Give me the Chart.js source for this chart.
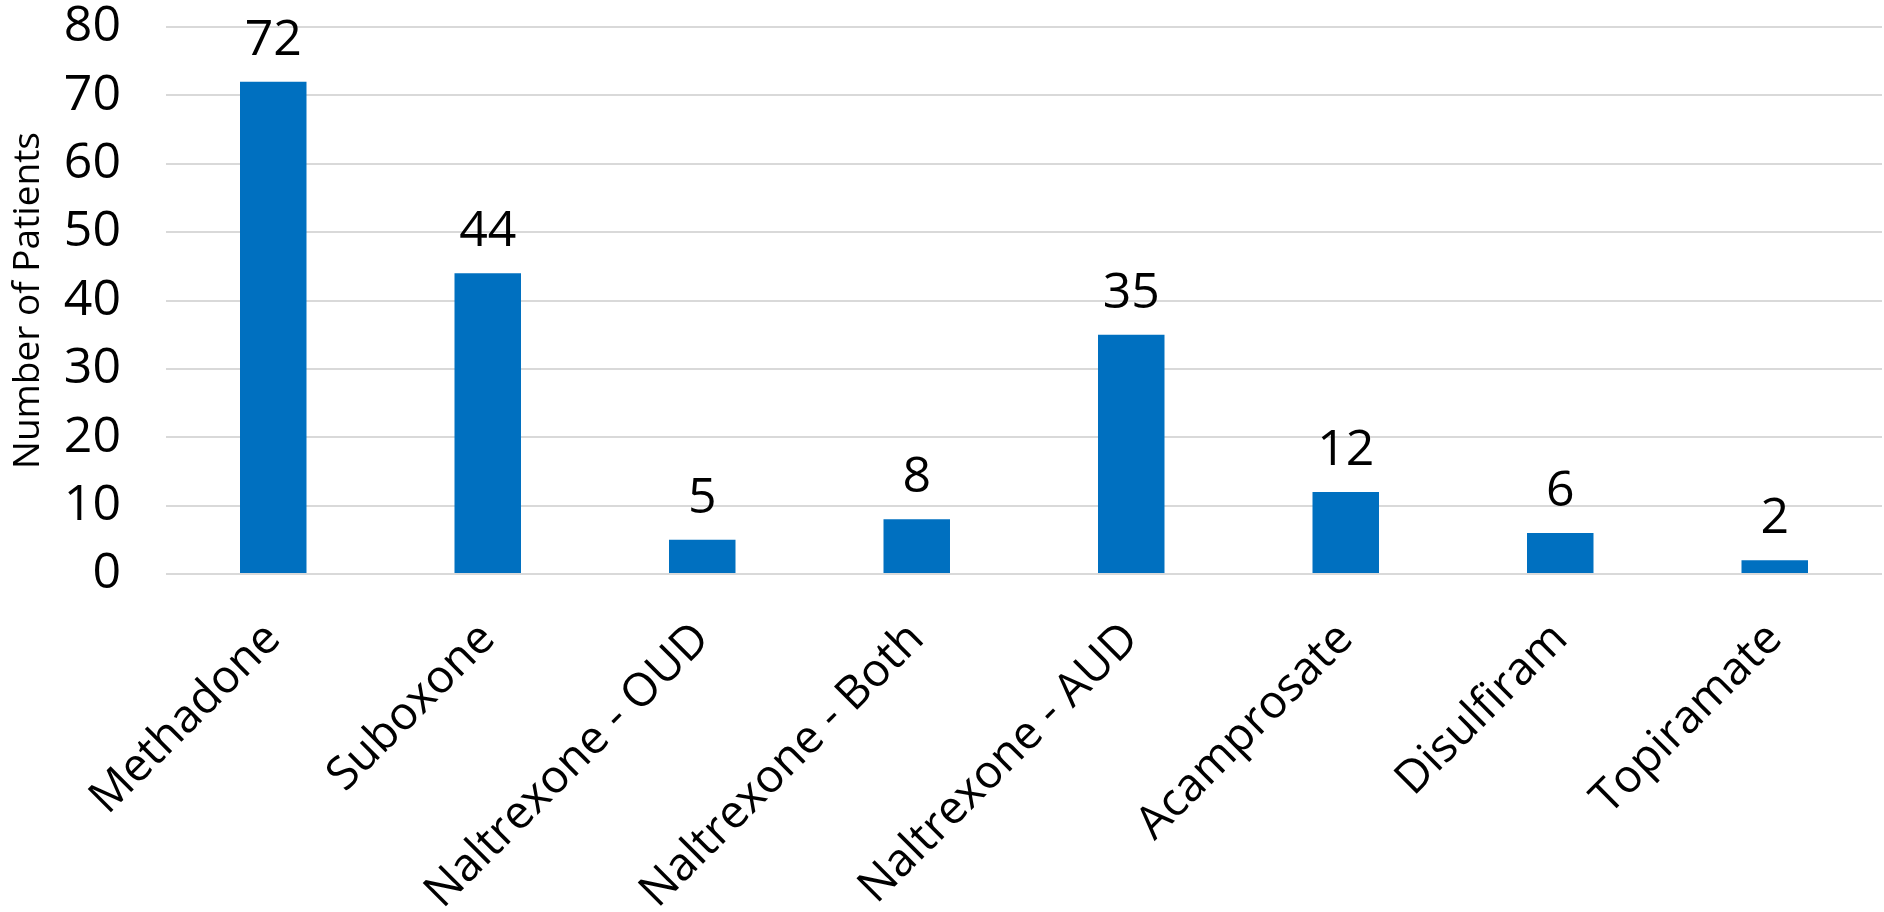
<!DOCTYPE html>
<html>
<head>
<meta charset="utf-8">
<script src="https://cdn.jsdelivr.net/npm/chart.js@4/dist/chart.umd.min.js"></script>
<style>
  html, body { margin: 0; padding: 0; background: #fff; }
  #wrap { width: 1884px; height: 912px; }
</style>
</head>
<body>
<div id="wrap"><canvas id="patientChart" width="1884" height="912"></canvas></div>
<script>
const categories = ["Methadone", "Suboxone", "Naltrexone - OUD", "Naltrexone - Both",
  "Naltrexone - AUD", "Acamprosate", "Disulfiram", "Topiramate"];
const patients = [72, 44, 5, 8, 35, 12, 6, 2];
const yTicks = [0, 10, 20, 30, 40, 50, 60, 70, 80];

const fontFamily = "'Open Sans', 'Noto Sans', sans-serif";

// draw the value above each bar
const valueLabels = {
  id: "valueLabels",
  afterDatasetsDraw(chart) {
    const ctx = chart.ctx;
    const meta = chart.getDatasetMeta(0);
    ctx.save();
    ctx.font = "50px " + fontFamily;
    ctx.fillStyle = "#000";
    ctx.textAlign = "center";
    ctx.textBaseline = "alphabetic";
    meta.data.forEach((bar, i) => {
      ctx.fillText(String(patients[i]), bar.x, bar.y - 27);
    });
    ctx.restore();
  }
};

new Chart(document.getElementById("patientChart"), {
  type: "bar",
  data: {
    labels: categories,
    datasets: [{
      data: patients,
      backgroundColor: "#0070C0",
      categoryPercentage: 1.0,
      barPercentage: 0.31
    }]
  },
  options: {
    responsive: false,
    animation: false,
    layout: { padding: { top: 27, right: 2, left: 6, bottom: 0 } },
    plugins: {
      legend: { display: false },
      tooltip: { enabled: false }
    },
    scales: {
      x: {
        grid: { display: false },
        border: { display: false },
        afterFit: axis => {
          axis.paddingLeft = 0;
          axis.paddingRight = 0;
          axis.height = 338;
        },
        ticks: {
          color: "#000",
          font: { family: fontFamily, size: 46 },
          maxRotation: 45,
          minRotation: 45,
          autoSkip: false,
          padding: 30
        }
      },
      y: {
        min: 0,
        max: 80,
        afterBuildTicks: axis => { axis.ticks = yTicks.map(v => ({ value: v })); },
        afterFit: axis => {
          axis.paddingTop = 0;
          axis.paddingBottom = 0;
          axis.width = 160;
        },
        grid: { color: "#d9d9d9", lineWidth: 2, drawTicks: false },
        border: { display: false },
        ticks: {
          color: "#000",
          font: { family: fontFamily, size: 50 },
          autoSkip: false,
          padding: 45
        },
        title: {
          display: true,
          text: "Number of Patients",
          color: "#000",
          font: { family: fontFamily, size: 37 },
          padding: { top: 0, bottom: 8 }
        }
      }
    }
  },
  plugins: [valueLabels]
});
</script>
</body>
</html>
